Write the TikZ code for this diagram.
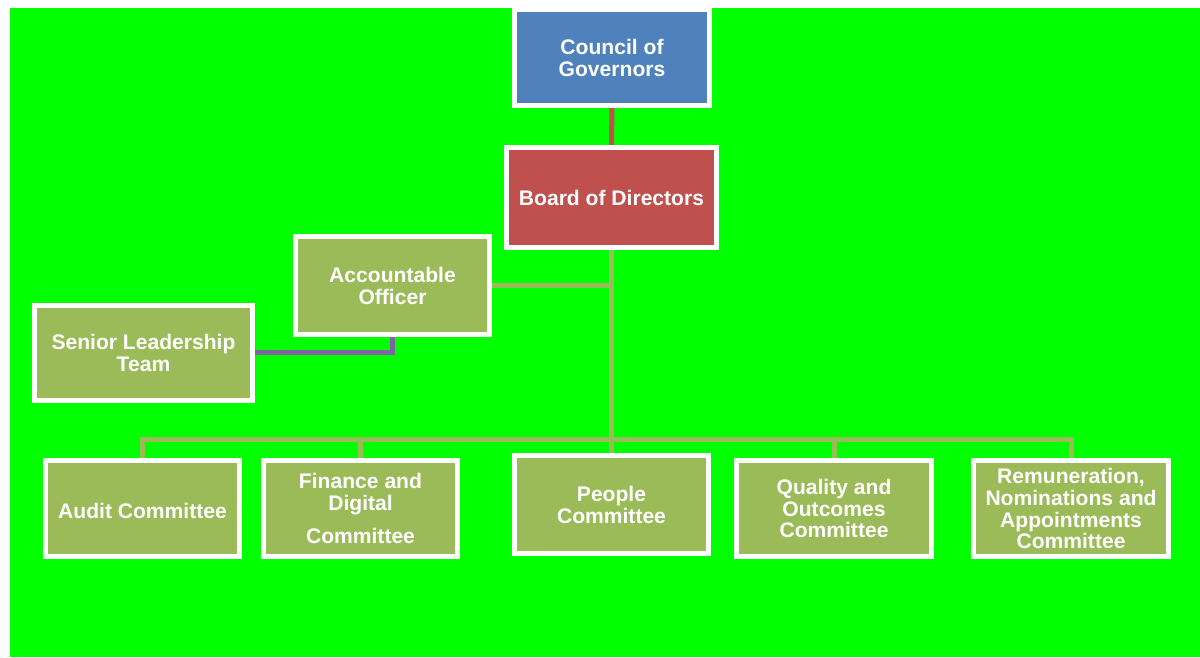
\documentclass[tikz,border=0pt]{standalone}
\usepackage{fontspec}
\setmainfont{Liberation Sans}
\usetikzlibrary{backgrounds}
\definecolor{bggreen}{HTML}{00FF00}
\definecolor{govblue}{HTML}{4F81BD}
\definecolor{boardred}{HTML}{C0504D}
\definecolor{olive}{HTML}{9BBB59}
\definecolor{slpurple}{HTML}{8064A2}
\begin{document}
\begin{tikzpicture}[x=0.02cm,y=-0.02cm,
    box/.style={draw=white,line width=0.1cm,fill=olive,text=white,align=center,
      font=\fontsize{12}{12.5}\selectfont\bfseries,inner sep=0pt,
      minimum width=3.9cm,minimum height=1.92cm},
    link/.style={olive,line width=0.1cm}]
  \useasboundingbox (0,0) rectangle (1200,658);
  \node[box,fill=govblue,minimum height=1.92cm] (council) at (612,57.5) {Council of\\Governors};
  \node[box,fill=boardred,minimum width=4.2cm,minimum height=2cm] (board) at (611.5,197.5) {Board of Directors};
  \node[box,minimum height=1.96cm] (ao) at (392.5,285.5) {Accountable\\Officer};
  \node[box,minimum width=4.36cm,minimum height=1.9cm] (slt) at (143.5,353) {Senior Leadership\\Team};
  \node[box] (audit) at (142.5,508.5) {\rule{0pt}{12pt}Audit Committee};
  \node[box] (finance) at (360.5,508.5) {Finance and\\Digital\\[6pt]Committee};
  \node[box,minimum height=1.96cm] (people) at (611.5,504.5) {People\\Committee};
  \node[box] (quality) at (834,508.5) {Quality and\\Outcomes\\Committee};
  \node[box] (remun) at (1071,508.5) {Remuneration,\\Nominations and\\Appointments\\Committee};
  \coordinate (bus) at (611.5,439);
  \begin{scope}[on background layer]
    \fill[bggreen] (10,8) rectangle (1200,657);
    \draw[boardred,line width=0.1cm] (council.south) -- (board.north);
    \draw[link] (board.south) -- (bus);
    \draw[link] (ao.east) -- (ao.east -| board.south);
    \foreach \c in {audit,finance,people,quality,remun}
      \draw[link] (bus) -| (\c.north);
    \draw[slpurple,line width=0.1cm] (slt.east) -| (ao.south);
  \end{scope}
\end{tikzpicture}
\end{document}
